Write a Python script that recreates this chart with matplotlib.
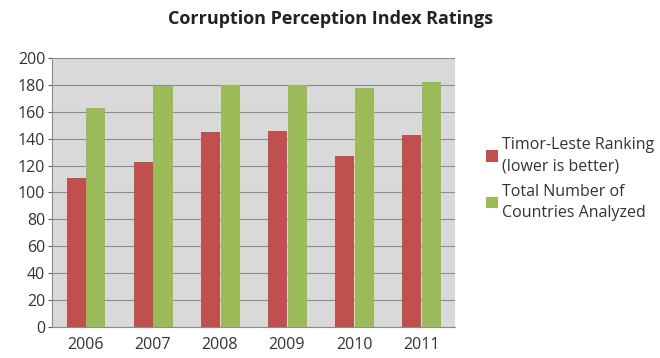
import matplotlib
matplotlib.use("Agg")
import matplotlib.pyplot as plt
import numpy as np

years = ["2006", "2007", "2008", "2009", "2010", "2011"]
ranking = [111, 123, 145, 146, 127, 143]
total = [163, 179, 180, 180, 178, 182]
labels = ["Timor-Leste Ranking\n(lower is better)", "Total Number of\nCountries Analyzed"]

plt.rcParams['font.family'] = ['Open Sans', 'DejaVu Sans']

fig = plt.figure(figsize=(6.6, 3.58), dpi=100)
ax = fig.add_axes([0.079, 0.087, 0.610, 0.751])
ax.set_facecolor('#D9D9D9')

x = np.arange(len(years))
w = 0.285
b1 = ax.bar(x - w / 2, ranking, w, color='#C0504D', label=labels[0], zorder=3)
b2 = ax.bar(x + w / 2 + 0.01, total, w, color='#9BBB59', label=labels[1], zorder=3)

ax.set_xlim(-0.5, len(years) - 0.5)
ax.set_ylim(0, 200)
ax.set_yticks(range(0, 201, 20))
ax.set_xticks(x)
ax.set_xticklabels(years)
ax.yaxis.grid(True, color='#8C8C8C', linewidth=0.8, zorder=0)
ax.set_axisbelow(True)
for s in ['top', 'right']:
    ax.spines[s].set_visible(False)
for s in ['left', 'bottom']:
    ax.spines[s].set_color('#8C8C8C')
ax.tick_params(axis='both', colors='#595959', labelsize=11.5, length=3, labelcolor='#333333')
ax.tick_params(axis='y', pad=2)
ax.tick_params(axis='x', length=0, pad=7)

fig.text(0.5, 0.948, "Corruption Perception Index Ratings", ha='center', va='center',
         fontsize=13, fontweight='bold', color='#222222')

leg = fig.legend(handles=[b1, b2], loc='center left', bbox_to_anchor=(0.72, 0.50),
                 frameon=False, fontsize=11.5, handlelength=0.7, handleheight=0.7,
                 handletextpad=0.3, labelspacing=0.6, borderpad=0.2)
for t in leg.get_texts():
    t.set_color('#333333')
    t.set_linespacing(1.45)

fig.savefig("out.png", dpi=100)
